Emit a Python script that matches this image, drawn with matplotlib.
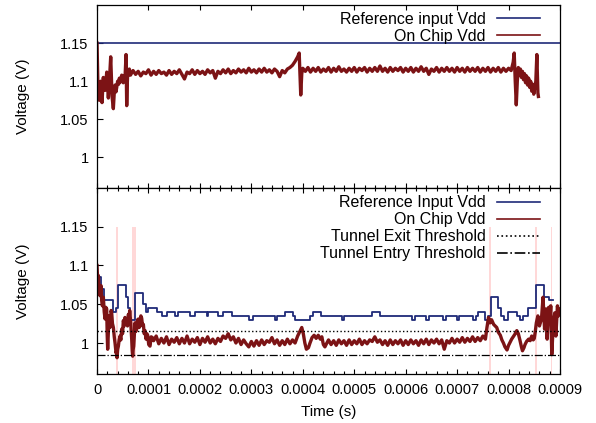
import numpy as np
import matplotlib
matplotlib.use("Agg")
import matplotlib.pyplot as plt
from matplotlib.ticker import MultipleLocator

# time in microseconds, voltage in V

# top panel
top_ref_t = [0, 900]
top_ref_v = [1.15, 1.15]

top_chip = [
    (0, 1.150), (1.9, 1.088), (3.2, 1.098), (4.5, 1.075), (6, 1.092), (7.2, 1.100),
    (8.5, 1.085), (9.7, 1.072), (11, 1.090), (12.2, 1.105), (13.8, 1.095), (15.6, 1.088),
    (17.2, 1.100), (18.9, 1.112), (20.5, 1.095), (22, 1.078), (24, 1.100), (25.5, 1.120),
    (26.6, 1.132), (28, 1.105), (29.2, 1.080), (30.5, 1.072), (31.7, 1.064), (33.5, 1.085),
    (35, 1.095), (36.8, 1.086), (38.3, 1.092), (40, 1.100), (42, 1.096), (43.4, 1.104),
    (45.5, 1.099), (48, 1.108), (49.5, 1.101), (51, 1.098), (53, 1.107), (54.4, 1.104),
    (55.5, 1.120), (56.4, 1.135), (57, 1.100), (57.7, 1.068), (58.7, 1.095), (59.7, 1.112),
    (61, 1.108), (62.8, 1.116),
    (65, 1.108), (70, 1.114), (75, 1.109), (80, 1.113), (85, 1.107), (90, 1.112),
    (95, 1.110), (100, 1.115), (105, 1.108), (110, 1.113), (115, 1.109), (120, 1.114),
    (125, 1.110), (130, 1.112), (135, 1.108), (140, 1.114), (145, 1.109), (150, 1.113),
    (155, 1.110), (160, 1.115), (165, 1.109), (170, 1.103), (175, 1.112), (180, 1.110),
    (185, 1.115), (190, 1.109), (195, 1.114), (200, 1.110), (205, 1.113), (210, 1.109),
    (215, 1.115), (220, 1.111), (225, 1.114), (230, 1.104), (235, 1.113), (240, 1.110),
    (245, 1.115), (250, 1.111), (255, 1.116), (260, 1.110), (265, 1.114), (270, 1.111),
    (275, 1.116), (280, 1.112), (285, 1.115), (290, 1.111), (295, 1.117), (300, 1.112),
    (305, 1.115), (310, 1.111), (315, 1.116), (320, 1.112), (325, 1.117), (330, 1.112),
    (335, 1.115), (340, 1.111), (345, 1.116), (350, 1.113), (355, 1.106), (360, 1.114),
    (365, 1.111), (370, 1.116), (375, 1.118), (380, 1.121), (385, 1.126), (390, 1.132),
    (393, 1.137), (395, 1.100), (396, 1.082), (398, 1.110), (400, 1.117),
    (405, 1.113), (410, 1.118), (415, 1.112), (420, 1.117), (425, 1.113), (430, 1.118),
    (435, 1.112), (440, 1.116), (445, 1.113), (450, 1.118), (455, 1.112), (460, 1.117),
    (465, 1.113), (470, 1.119), (475, 1.113), (480, 1.116), (485, 1.112), (490, 1.117),
    (495, 1.113), (500, 1.118), (505, 1.112), (510, 1.117), (515, 1.114), (520, 1.118),
    (525, 1.112), (530, 1.117), (535, 1.113), (540, 1.118), (545, 1.113), (550, 1.120),
    (555, 1.113), (560, 1.117), (565, 1.112), (570, 1.118), (575, 1.113), (580, 1.117),
    (585, 1.114), (590, 1.118), (595, 1.112), (600, 1.117), (605, 1.113), (610, 1.118),
    (615, 1.112), (620, 1.117), (625, 1.113), (630, 1.119), (635, 1.113), (640, 1.117),
    (645, 1.109), (650, 1.116), (655, 1.113), (660, 1.118), (665, 1.112), (670, 1.117),
    (675, 1.113), (680, 1.118), (685, 1.113), (690, 1.117), (695, 1.112), (700, 1.118),
    (705, 1.113), (710, 1.117), (715, 1.112), (720, 1.118), (725, 1.113), (730, 1.117),
    (735, 1.113), (740, 1.118), (745, 1.112), (750, 1.117), (755, 1.113), (760, 1.118),
    (765, 1.112), (770, 1.117), (775, 1.113), (780, 1.118), (785, 1.112), (790, 1.117),
    (795, 1.113), (800, 1.117), (805, 1.114), (809, 1.125), (811, 1.137), (813, 1.100),
    (815, 1.069), (817, 1.100), (819, 1.118), (821, 1.108), (823, 1.116), (825, 1.105),
    (827, 1.113), (829, 1.102), (831, 1.110), (833, 1.098), (835, 1.107), (837, 1.095),
    (839, 1.104), (841, 1.092), (843, 1.100), (845, 1.087), (847, 1.096), (849, 1.083),
    (851, 1.092), (853, 1.100), (855, 1.135), (856, 1.110), (857, 1.085), (858, 1.080),
]

# bottom panel
bot_ref = [
    (0, 1.085), (7.2, 1.07), (13.6, 1.055), (30.5, 1.04), (36.4, 1.045), (40.2, 1.075),
    (55.8, 1.06), (60.8, 1.045), (64.7, 1.03), (73.9, 1.065), (90, 1.05), (95.3, 1.04),
    (99.7, 1.045), (116, 1.04), (125.8, 1.035), (135.5, 1.04), (151.6, 1.035), (158, 1.04),
    (180.8, 1.035), (190.5, 1.04), (213.3, 1.035), (216.4, 1.04), (235.8, 1.035),
    (245.5, 1.04), (261.9, 1.035), (295.5, 1.03), (303.9, 1.035), (346, 1.03),
    (350.5, 1.035), (365.5, 1.04), (380.4, 1.035), (384.9, 1.03), (414, 1.035),
    (420.5, 1.04), (434.9, 1.035), (475.7, 1.03), (480.2, 1.035), (534, 1.04),
    (550.2, 1.035), (612.4, 1.03), (618.2, 1.035), (639, 1.03), (645.4, 1.035),
    (673.2, 1.03), (678.5, 1.035), (699.3, 1.03), (704.3, 1.035), (730.4, 1.03),
    (736.8, 1.035), (740.1, 1.04), (754.3, 1.03), (759.5, 1.035), (766, 1.06),
    (779, 1.045), (785.4, 1.035), (791.8, 1.03), (798.4, 1.04), (815.9, 1.035),
    (822.3, 1.03), (828.7, 1.035), (838.5, 1.045), (853.4, 1.075), (869, 1.06),
    (879.3, 1.055), (887, 1.055),
]

bot_chip = [
    (0, 1.100), (1.3, 1.080), (2.6, 1.087), (3.9, 1.070), (5.8, 1.061), (7.8, 1.074),
    (9, 1.055), (10.4, 1.048), (12.3, 1.059), (14, 1.040), (15.6, 1.031), (17.2, 1.046),
    (18.8, 1.044), (19.8, 1.010), (20.7, 0.992), (22, 1.015), (23.3, 1.035), (25, 1.020),
    (25.9, 1.024), (27.3, 1.042), (28.5, 1.039), (30, 1.025), (31.8, 1.020), (33.5, 1.008),
    (35, 1.000), (37, 0.987), (38.2, 0.990), (38.9, 0.981), (40.2, 0.992), (41.5, 0.996),
    (43, 1.004), (44.7, 1.009), (46.3, 1.004), (48, 1.018), (49.6, 1.012), (51.2, 1.029),
    (52.8, 1.022), (54.4, 1.033), (56, 1.026), (57.7, 1.029), (59.3, 1.022), (61, 1.037),
    (62.3, 1.030), (63.5, 1.042), (65.5, 1.026), (67.4, 1.005), (68.4, 0.990),
    (69.3, 0.983), (70.3, 0.992), (71.3, 0.996), (72.6, 1.012), (73.9, 1.026),
    (75.5, 1.015), (77.1, 1.018), (78.8, 1.030), (80.4, 1.031), (82, 1.020), (83.6, 1.026),
    (85.2, 1.035), (86.8, 1.032), (88.5, 1.022), (90.1, 1.024), (91.7, 1.012),
    (93.3, 1.016), (95.3, 1.005), (97, 1.012), (98.5, 1.010), (100.5, 0.998), (103, 0.996),
    (105.3, 1.008), (107.6, 1.007),
    (110, 1.003), (115, 1.009), (120, 0.999), (125, 1.006), (130, 1.000), (135, 1.008),
    (140, 0.998), (145, 1.005), (150, 1.001), (155, 1.007), (160, 0.999), (165, 1.006),
    (170, 1.000), (175, 1.009), (180, 0.999), (185, 1.005), (190, 1.001), (195, 1.007),
    (200, 0.998), (205, 1.006), (210, 1.001), (215, 1.008), (220, 1.000), (225, 1.005),
    (230, 0.999), (235, 1.006), (240, 1.002), (245, 1.009), (250, 1.006), (255, 1.012),
    (260, 1.004), (265, 1.008), (270, 1.000), (275, 1.006), (280, 0.998), (285, 1.004),
    (290, 0.999), (295, 0.995), (300, 1.002), (305, 0.996), (310, 1.003), (315, 0.997),
    (320, 1.004), (325, 0.998), (330, 1.003), (335, 1.001), (340, 1.007), (345, 0.999),
    (350, 1.004), (355, 0.997), (360, 1.003), (365, 0.998), (370, 1.005), (375, 0.999),
    (380, 1.004), (385, 1.000), (390, 1.009), (395, 1.016), (398, 1.020), (401, 1.012),
    (404, 1.000), (407, 0.992), (411, 0.994), (414, 1.000), (418, 1.007), (422, 1.010),
    (426, 1.006), (430, 1.010), (434, 1.005), (437, 1.008), (440, 0.998), (443, 0.995),
    (446, 0.999), (450, 1.004), (455, 0.998), (460, 1.003), (465, 0.997), (470, 1.004),
    (475, 0.999), (480, 1.003), (485, 0.997), (490, 1.004), (495, 0.998), (500, 1.003),
    (505, 0.999), (510, 1.005), (515, 0.998), (520, 1.003), (525, 0.999), (530, 1.004),
    (535, 1.002), (540, 1.008), (545, 1.001), (550, 1.004), (555, 0.998), (560, 1.003),
    (565, 0.997), (570, 1.004), (575, 0.998), (580, 1.003), (585, 0.999), (590, 1.004),
    (595, 0.997), (600, 1.003), (605, 0.998), (610, 1.004), (615, 0.999), (620, 1.003),
    (625, 0.997), (630, 1.004), (635, 0.999), (640, 1.005), (645, 0.998), (650, 1.004),
    (655, 1.000), (660, 1.005), (665, 0.999), (670, 1.004), (675, 0.992), (680, 1.003),
    (685, 1.000), (690, 1.006), (695, 1.000), (700, 1.005), (705, 1.001), (710, 1.007),
    (715, 1.001), (720, 1.006), (725, 1.002), (730, 1.008), (735, 1.002), (740, 1.007),
    (745, 1.003), (750, 1.009), (755, 1.005), (758, 1.020), (761, 1.033), (764, 1.026),
    (767, 1.030), (771, 1.024), (774, 1.022), (777, 1.020), (780, 1.014), (784, 1.010),
    (787, 1.004), (790, 1.000), (793, 0.995), (797, 0.991), (800, 0.997), (803, 1.001),
    (806, 1.005), (810, 1.009), (813, 1.012), (816, 1.016), (819, 1.012), (822, 1.004),
    (825, 0.995), (827, 0.990), (830, 0.994), (832, 0.998), (835, 1.002), (839, 1.005),
    (842, 1.003), (845, 1.009), (848, 1.004), (850, 1.006), (852, 1.015), (854, 1.026),
    (857, 1.035), (860, 1.022), (864, 1.031), (867, 1.059), (870, 1.018), (873, 1.044),
    (875, 1.005), (878, 1.046), (880, 1.026), (882, 1.048), (884, 0.985), (887, 1.026),
    (890, 1.039), (892, 1.009), (895, 1.048), (897, 1.035), (899, 1.044), (900, 1.040),
]

exit_threshold = 1.015
entry_threshold = 0.985

# tunnel events (start, end) in microseconds
events = [(36.5, 41), (68, 75.8), (762, 766), (851.5, 855), (882, 884)]

x_ticks = [0, 0.0001, 0.0002, 0.0003, 0.0004, 0.0005, 0.0006, 0.0007, 0.0008, 0.0009]
x_tick_labels = ["0", "0.0001", "0.0002", "0.0003", "0.0004",
                 "0.0005", "0.0006", "0.0007", "0.0008", "0.0009"]
y_ticks = [1, 1.05, 1.1, 1.15]
y_tick_labels = ["1", "1.05", "1.1", "1.15"]

blue = "#1f2a78"
red = "#7c1315"
pink = "#ffd8d8"

plt.rcParams["font.family"] = ["Liberation Sans", "DejaVu Sans"]

fig = plt.figure(figsize=(5.96, 4.23), dpi=100)
ax1 = fig.add_axes([0.1628, 0.5556, 0.7768, 0.4326])
ax2 = fig.add_axes([0.1628, 0.1158, 0.7768, 0.4398])

us = 1e-6

# top: reference and on-chip supply
t, v = np.array(top_chip).T
ax1.plot(np.array(top_ref_t) * us, top_ref_v, color=blue, lw=1.2, label="Reference input Vdd")
ax1.plot(t * us, v, color=red, lw=2.4, label="On Chip Vdd")

# bottom: tunnel events, reference, on-chip and thresholds
for s, e in events:
    ax2.axvspan(s * us, e * us, ymin=0, ymax=(1.15 - 0.96) / 0.24, color=pink, lw=0, zorder=0)
t, v = np.array(bot_ref).T
ax2.step(t * us, v, where="post", color=blue, lw=1.3, label="Reference Input Vdd")
t, v = np.array(bot_chip).T
ax2.plot(t * us, v, color=red, lw=2.4, label="On Chip Vdd")
ax2.axhline(exit_threshold, color="black", lw=1.0, ls=":", label="Tunnel Exit Threshold")
ax2.axhline(entry_threshold, color="black", lw=0.9, ls="-.", label="Tunnel Entry Threshold")

for ax, top in ((ax1, 0.962), (ax2, 0.96)):
    ax.set_xlim(0, 0.0009)
    ax.set_ylim(0.96, 1.2)
    ax.set_xticks(x_ticks)
    ax.xaxis.set_minor_locator(MultipleLocator(0.00002))
    ax.set_yticks(y_ticks)
    ax.set_yticklabels(y_tick_labels, fontsize=10.5)
    ax.tick_params(axis="x", which="both", direction="in", top=True, bottom=True)
    ax.tick_params(axis="x", which="major", length=3.5, width=0.8, pad=6.5)
    ax.tick_params(axis="x", which="minor", length=2, width=0.8)
    ax.tick_params(axis="y", which="major", direction="in", length=4.2, width=0.8, pad=6)
    for sp in ax.spines.values():
        sp.set_linewidth(0.9)
    ax.set_ylabel("Voltage (V)", fontsize=11)
    ax.yaxis.set_label_coords(-0.145, 0.5)
    leg = ax.legend(loc="upper right", bbox_to_anchor=(0.9568, top), frameon=False,
                    markerfirst=False, fontsize=11.5, handlelength=2.7, handletextpad=0.7,
                    borderpad=0, borderaxespad=0, labelspacing=0.12)
    for line in leg.get_lines():
        line.set_linewidth(1.2)

ax1.set_xticklabels([])
ax1.tick_params(axis="x", which="minor", top=False)
ax2.set_xticklabels(x_tick_labels, fontsize=10.5)
ax2.set_xlabel("Time (s)", fontsize=11)
ax2.xaxis.set_label_coords(0.5, -0.165)

plt.savefig("out.png", dpi=100)
